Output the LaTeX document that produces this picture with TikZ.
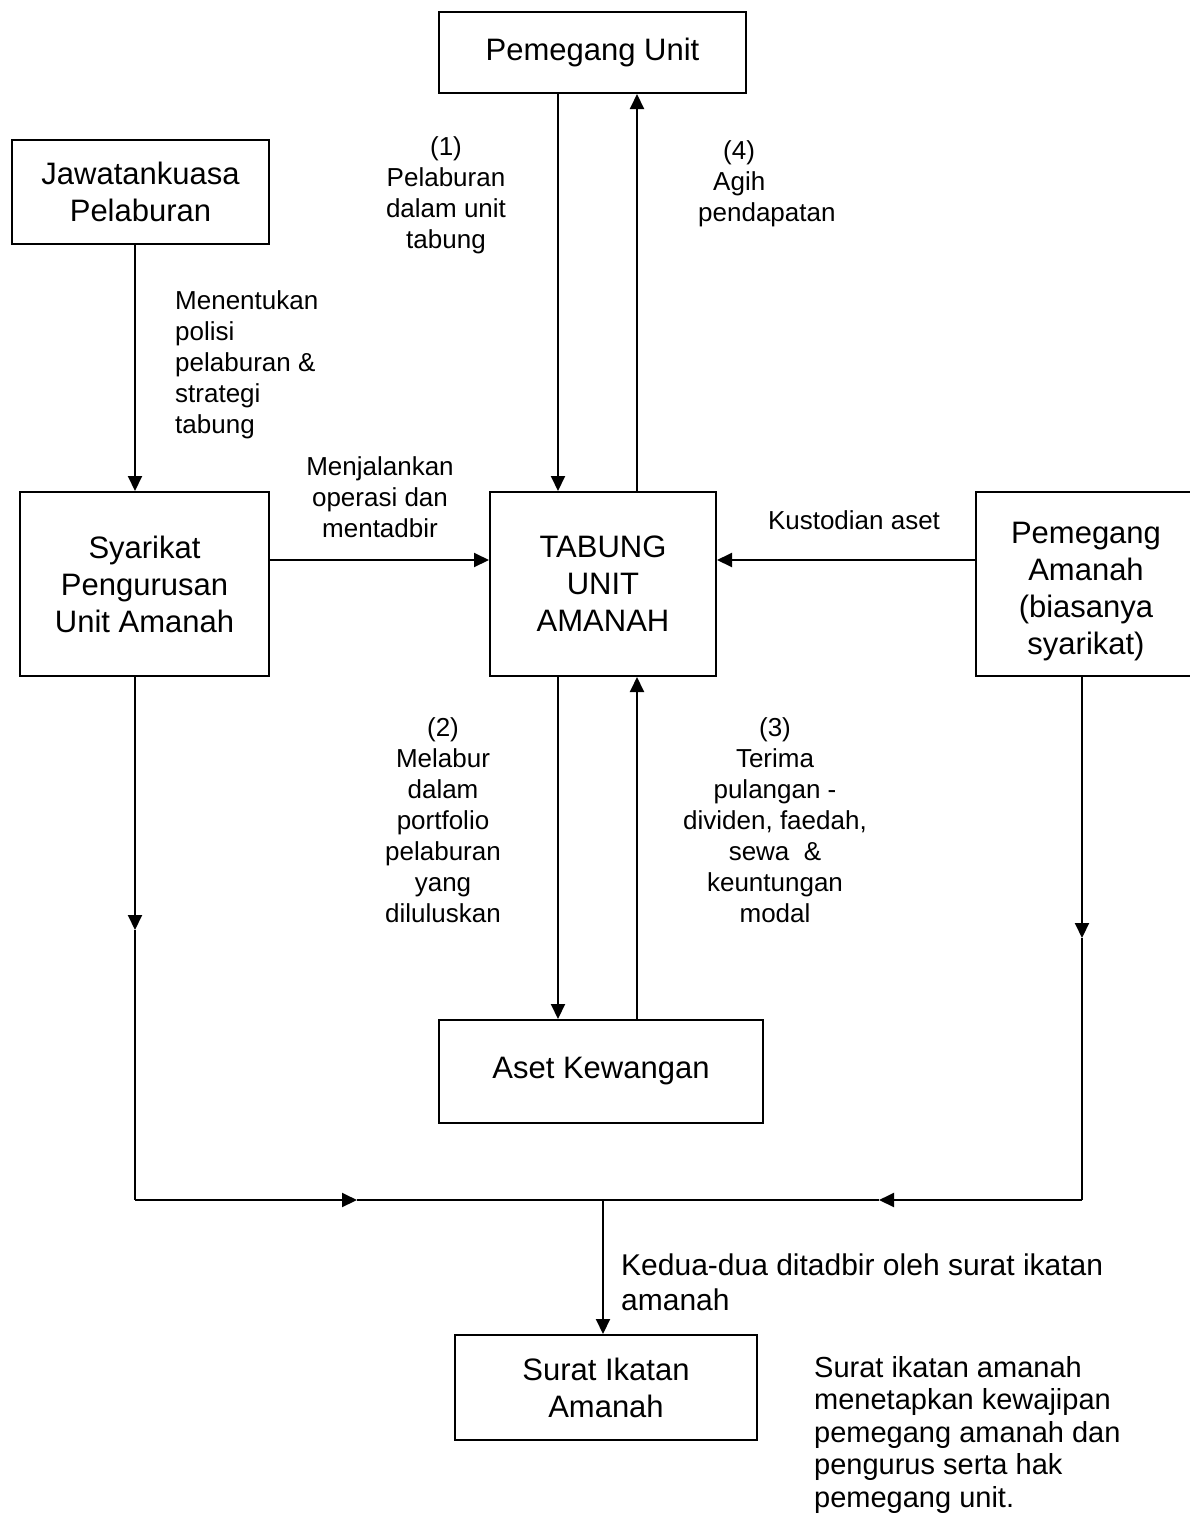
\documentclass[tikz,border=0pt]{standalone}
\usepackage{fontspec}
\setmainfont{Liberation Sans}
\usetikzlibrary{arrows.meta}
\begin{document}
\begin{tikzpicture}[x=1pt,y=-1pt,
  box/.style={draw, line width=2pt, align=center, inner sep=0pt, font=\fontsize{31}{37}\selectfont},
  lbl/.style={align=center, inner sep=0pt, font=\fontsize{26}{31}\selectfont},
  lblb/.style={align=left, inner sep=0pt, font=\fontsize{29}{32.5}\selectfont},
  arr/.style={line width=2pt, -{Triangle[length=15pt,width=14pt]}},
  ln/.style={line width=2pt}]
\useasboundingbox (0,0) rectangle (1190,1518);
% boxes
\node[box, minimum width=307pt, minimum height=81pt] (PU) at (592.5,52.5) {Pemegang Unit};
\node[box, minimum width=257pt, minimum height=104pt] (JP) at (140.5,192) {Jawatankuasa\\Pelaburan};
\node[box, minimum width=249pt, minimum height=184pt] (SP) at (144.5,584) {Syarikat\\Pengurusan\\Unit Amanah};
\node[box, minimum width=226pt, minimum height=184pt] (TU) at (603,584) {TABUNG\\UNIT\\AMANAH};
\node[box, minimum width=220pt, minimum height=184pt] (PA) at (1086,584) {\rule{0pt}{37pt}Pemegang\\Amanah\\(biasanya\\syarikat)};
\node[box, minimum width=324pt, minimum height=103pt] (AK) at (601,1071.5) {Aset Kewangan};
\node[box, minimum width=302pt, minimum height=105pt] (SI) at (606,1387.5) {Surat Ikatan\\Amanah};
% helper coordinates
\coordinate (c1) at (558,0);
\coordinate (c2) at (637,0);
\coordinate (cL) at (135,0);
\coordinate (cR) at (1082,0);
\coordinate (h1) at (0,560);
\coordinate (mL) at (135,930);
\coordinate (BL) at (135,1200);
\coordinate (mR) at (1082,938);
\coordinate (BR) at (1082,1200);
\coordinate (J) at (603,1200);
\coordinate (mB1) at (357,1200);
\coordinate (mB2) at (879,1200);
% connectors
\draw[arr] (PU.south -| c1) -- (TU.north -| c1);
\draw[arr] (TU.north -| c2) -- (PU.south -| c2);
\draw[arr] (JP.south -| cL) -- (SP.north -| cL);
\draw[arr] (SP.east |- h1) -- (TU.west |- h1);
\draw[arr] (PA.west |- h1) -- (TU.east |- h1);
\draw[arr] (TU.south -| c1) -- (AK.north -| c1);
\draw[arr] (AK.north -| c2) -- (TU.south -| c2);
\draw[arr] (SP.south -| cL) -- (mL);
\draw[ln] (mL) -- (BL);
\draw[arr] (BL) -- (mB1);
\draw[ln] (mB1) -- (J);
\draw[arr] (PA.south -| cR) -- (mR);
\draw[ln] (mR) -- (BR);
\draw[arr] (BR) -- (mB2);
\draw[ln] (mB2) -- (J);
\draw[arr] (J) -- (SI.north -| J);
% labels
\node[lbl] (l1) at (446,195) {(1)\\Pelaburan\\dalam unit\\tabung};
\node[lbl, align=left, anchor=north west] (l4) at (698,140) {\hspace*{25pt}(4)\\\hspace*{15pt}Agih\\pendapatan};
\node[lbl, align=left, anchor=north west] (lm) at (175,290) {Menentukan\\polisi\\pelaburan \&\\strategi\\tabung};
\node[lbl] (lj) at (380,497) {Menjalankan\\operasi dan\\mentadbir};
\node[lbl] (lk) at (854,520) {Kustodian aset};
\node[lbl] (l2) at (443,820) {(2)\\Melabur\\dalam\\portfolio\\pelaburan\\yang\\diluluskan};
\node[lbl] (l3) at (775,820) {(3)\\Terima\\pulangan -\\dividen, faedah,\\sewa\ \ \&\\keuntungan\\modal};
\node[lblb, anchor=north west, font=\fontsize{30}{35}\selectfont] (lkd) at (621,1254) {Kedua-dua ditadbir oleh surat ikatan\\amanah};
\node[lblb, anchor=north west] (ls) at (814,1356) {Surat ikatan amanah\\menetapkan kewajipan\\pemegang amanah dan\\pengurus serta hak\\pemegang unit.};
\end{tikzpicture}
\end{document}
